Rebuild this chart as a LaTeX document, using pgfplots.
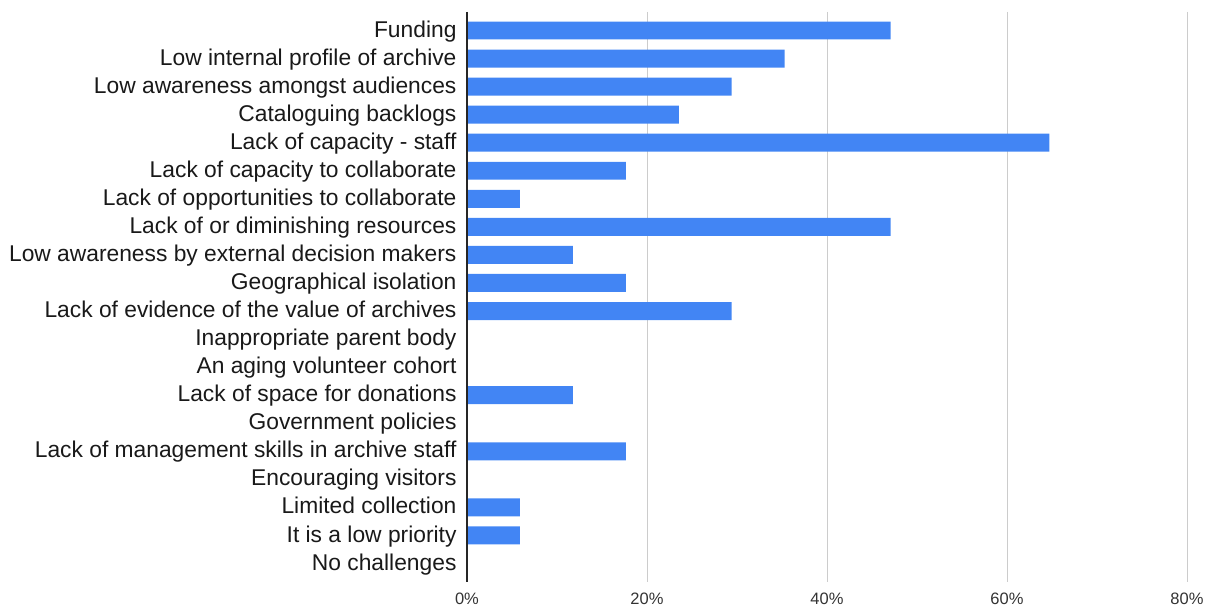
\documentclass[border=0pt]{standalone}
\usepackage{pgfplots}
\pgfplotsset{compat=1.18}
\usepackage{fontspec}
\setmainfont{Liberation Sans}
\definecolor{gblue}{HTML}{4285F4}
\begin{document}
\begin{tikzpicture}[x=1pt,y=1pt]
\begin{axis}[
  name=ax,
  scale only axis,
  clip=false,
  width=720pt, height=570pt,
  xmin=0, xmax=80,
  ymin=-0.66, ymax=19.66,
  y dir=reverse,
  axis line style={draw=none},
  xtick={0,20,40,60,80},
  xticklabel={\pgfmathprintnumber{\tick}\%},
  xticklabel style={font=\fontsize{16.5}{18}\selectfont, text=black!80, text height=0.72em, text depth=0.2em},
  x tick label style={yshift=-12pt},
  ytick={0,...,19},
  yticklabels={Funding,Low internal profile of archive,Low awareness amongst audiences,Cataloguing backlogs,Lack of capacity - staff,Lack of capacity to collaborate,Lack of opportunities to collaborate,Lack of or diminishing resources,Low awareness by external decision makers,Geographical isolation,Lack of evidence of the value of archives,Inappropriate parent body,An aging volunteer cohort,Lack of space for donations,Government policies,Lack of management skills in archive staff,Encouraging visitors,Limited collection,It is a low priority,No challenges},
  yticklabel style={font=\fontsize{22.8}{26}\selectfont, text=black!90, xshift=-7pt, yshift=-4pt, anchor=east, text height=0.72em, text depth=0.2em},
  major tick length=0pt,
  xmajorgrids,
  major grid style={draw=black!20, line width=0.9pt},
  /pgf/number format/assume math mode=true,
]
\addplot[xbar, bar width=0.64, fill=gblue, draw=none] coordinates {
(47.06,0) (35.29,1) (29.41,2) (23.53,3) (64.71,4) (17.65,5) (5.88,6) (47.06,7) (11.76,8) (17.65,9) (29.41,10) (0,11) (0,12) (11.76,13) (0,14) (17.65,15) (0,16) (5.88,17) (5.88,18) (0,19)
};
\draw[black!85, line width=1.2pt] (axis cs:0,-0.66) -- (axis cs:0,19.66);
\end{axis}
\pgfresetboundingbox
\path[use as bounding box] ([xshift=-467pt,yshift=-25pt]ax.south west) rectangle ([xshift=20pt,yshift=12pt]ax.north east);
\end{tikzpicture}
\end{document}
